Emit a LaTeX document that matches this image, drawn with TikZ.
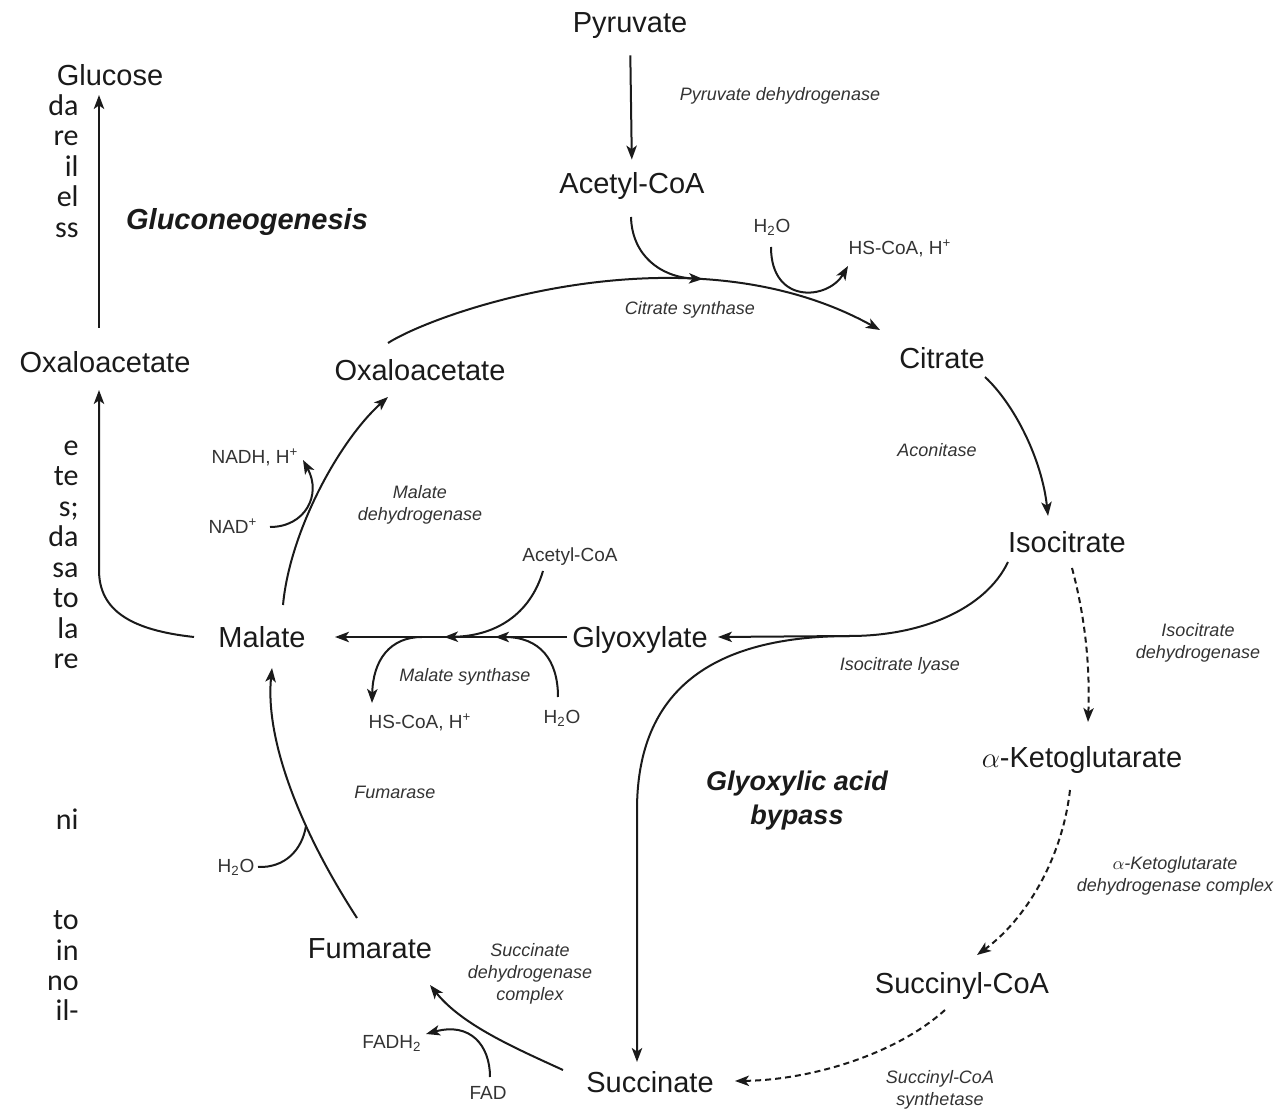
\documentclass[tikz,border=0pt]{standalone}
\usepackage{fontspec}
\setmainfont{Liberation Sans}
\newfontfamily\carl{Carlito}
\usetikzlibrary{arrows.meta}
\definecolor{ink}{HTML}{1A1A1A}
\definecolor{lbl}{HTML}{333333}
\begin{document}
\begin{tikzpicture}[x=0.5pt,y=-0.5pt,
  met/.style={font=\fontsize{14.5}{17}\selectfont, text=ink, inner sep=0pt, text height=10.4pt, text depth=0pt},
  sml/.style={font=\fontsize{9.5}{11}\selectfont, text=lbl, inner sep=0pt, text height=6.8pt, text depth=0pt},
  enz/.style={font=\fontsize{9}{11}\selectfont\itshape, text=lbl, align=center, inner sep=0pt},
  bigit/.style={font=\fontsize{14.5}{17}\selectfont\bfseries\itshape, text=ink, align=center, inner sep=0pt},
  frag/.style={font=\carl\fontsize{15}{18}\selectfont, text=ink, anchor=base east, inner sep=0pt},
  ln/.style={line width=1pt, draw=ink},
  arr/.style={ln, -{Stealth[length=7pt,width=5.2pt,inset=1.8pt]}},
  darr/.style={arr, dash pattern=on 3pt off 2pt},
]
\useasboundingbox (0,0) rectangle (1287,1112);

% metabolites
\node[met] (pyr) at (630,22) {Pyruvate};
\node[met] (acoa) at (632,183) {Acetyl-CoA};
\node[met] (cit) at (942,358) {Citrate};
\node[met] (iso) at (1067,542) {Isocitrate};
\node[met] (akg) at (1082,757) {$\alpha$-Ketoglutarate};
\node[met] (sca) at (962,983) {Succinyl-CoA};
\node[met] (suc) at (650,1082) {Succinate};
\node[met] (fum) at (370,948) {Fumarate};
\node[met] (mal) at (262,637) {Malate};
\node[met] (oaa) at (420,370) {Oxaloacetate};
\node[met] (gly) at (640,637) {Glyoxylate};
\node[met] (oaab) at (105,362) {Oxaloacetate};
\node[met] (glc) at (110,75) {Glucose};

% small reactants
\node[sml] (wa) at (772,226) {H\textsubscript{2}O};
\node[sml] (hsa) at (900,248) {HS-CoA, H\textsuperscript{+}};
\node[sml] (acb) at (570,555) {Acetyl-CoA};
\node[sml] (wb) at (562,717) {H\textsubscript{2}O};
\node[sml] (hsb) at (420,722) {HS-CoA, H\textsuperscript{+}};
\node[sml] (nadh) at (255,457) {NADH, H\textsuperscript{+}};
\node[sml] (nad) at (233,527) {NAD\textsuperscript{+}};
\node[sml] (wc) at (236,866) {H\textsubscript{2}O};
\node[sml] (fadh) at (392,1042) {FADH\textsubscript{2}};
\node[sml] (fad) at (488,1093) {FAD};

% enzymes
\node[enz] (e1) at (780,96) {Pyruvate dehydrogenase};
\node[enz] (e2) at (690,310) {Citrate synthase};
\node[enz] (e3) at (937,450) {Aconitase};
\node[enz] (e4) at (1198,643) {Isocitrate\\dehydrogenase};
\node[enz] (e5) at (1175,876) {$\alpha$-Ketoglutarate\\dehydrogenase complex};
\node[enz] (e6) at (940,1090) {Succinyl-CoA\\synthetase};
\node[enz] (e7) at (530,974) {Succinate\\dehydrogenase\\complex};
\node[enz] (e8) at (395,792) {Fumarase};
\node[enz] (e9) at (465,677) {Malate synthase};
\node[enz] (e10) at (420,505) {Malate\\dehydrogenase};
\node[enz] (e11) at (900,666) {Isocitrate lyase};

\node[bigit] (gng) at (247,222) {Gluconeogenesis};
\node[bigit, font=\fontsize{13.5}{17}\selectfont\bfseries\itshape] (gab) at (797,801) {Glyoxylic acid\\bypass};

% cut text on the left edge
\foreach \t/\y [count=\i] in {da/116,re/146,il/177,el/207,ss/238,e/456,te/486,s;/517,da/547,sa/578,to/608,la/639,re/669,ni/830,to/929,in/960,no/990,il-/1021}
  \node[frag] (f\i) at (79,\y) {\t};

% connection points
\coordinate (arcS) at (388,343);
\coordinate (arcE) at (880,330);
\coordinate (acoaS) at (631,217);
\coordinate (acoaE) at (703,279);
\coordinate (waS) at (771,247);
\coordinate (waE) at (848,266);
\coordinate (citS) at (985,377);
\coordinate (isoE) at (1048,516);
\coordinate (isoS) at (1072,568);
\coordinate (akgE) at (1088,722);
\coordinate (akgS) at (1070,790);
\coordinate (scaE) at (977,955);
\coordinate (scaS) at (945,1010);
\coordinate (sucE) at (735,1081);
\coordinate (sucS) at (563,1070);
\coordinate (fumE) at (430,985);
\coordinate (fadS) at (490,1077);
\coordinate (fadE) at (426,1034);
\coordinate (fumS) at (357,918);
\coordinate (malE) at (272,668);
\coordinate (wcS) at (258,867);
\coordinate (wcE) at (306,826);
\coordinate (malS) at (283,605);
\coordinate (oaaE) at (388,397);
\coordinate (nadS) at (270,527);
\coordinate (nadE) at (303,460);
\coordinate (malW) at (194,637);
\coordinate (oaabE) at (99,390);
\coordinate (oaabS) at (99,328);
\coordinate (glcE) at (99,95);
\coordinate (glyW) at (567,637);
\coordinate (malEast) at (335,637);
\coordinate (acbS) at (543,571);
\coordinate (acbE) at (444,637);
\coordinate (wbS) at (558,697);
\coordinate (wbE) at (495,637);
\coordinate (hsbS) at (422,637);
\coordinate (hsbE) at (372,703);
\coordinate (isoL) at (1008,562);
\coordinate (brk) at (850,636);
\coordinate (glyE) at (718,637);
\coordinate (sucN) at (637,1062);

% TCA cycle
\draw[arr, shorten <=11.3pt, shorten >=6.3pt] (pyr.south) -- (acoa.north);
\draw[arr] (arcS) .. controls (440,310) and (690,225) .. (arcE);
\draw[arr] (acoaS) .. controls (632,255) and (660,277) .. (acoaE);
\draw[arr] (waS) .. controls (771,305) and (828,300) .. (waE);
\draw[arr] (citS) .. controls (1015,405) and (1042,460) .. (isoE);
\draw[darr] (isoS) .. controls (1086,620) and (1090,670) .. (akgE);
\draw[darr] (akgS) .. controls (1062,860) and (1025,920) .. (scaE);
\draw[darr] (scaS) .. controls (895,1055) and (810,1080) .. (sucE);
\draw[arr] (sucS) .. controls (515,1048) and (462,1025) .. (fumE);
\draw[arr] (fadS) .. controls (490,1045) and (470,1022) .. (fadE);
\draw[arr] (fumS) .. controls (300,830) and (265,740) .. (malE);
\draw[ln] (wcS) .. controls (285,868) and (302,850) .. (wcE);
\draw[arr] (malS) .. controls (290,530) and (340,440) .. (oaaE);
\draw[arr] (nadS) .. controls (305,527) and (322,495) .. (nadE);

% gluconeogenesis
\draw[arr] (malW) .. controls (130,630) and (99,610) .. (99,570) -- (oaabE);
\draw[arr] (oaabS) -- (glcE);

% glyoxylate bypass
\draw[arr] (glyW) -- (malEast);
\draw[arr] (acbS) .. controls (530,615) and (495,636) .. (acbE);
\draw[arr] (wbS) .. controls (558,660) and (540,637) .. (wbE);
\draw[arr] (hsbS) .. controls (390,637) and (373,660) .. (hsbE);
\draw[ln] (isoL) .. controls (985,610) and (920,636) .. (brk);
\draw[arr] (brk) -- (glyE);
\draw[arr] (brk) .. controls (700,636) and (637,700) .. (637,810) -- (sucN);
\end{tikzpicture}
\end{document}
